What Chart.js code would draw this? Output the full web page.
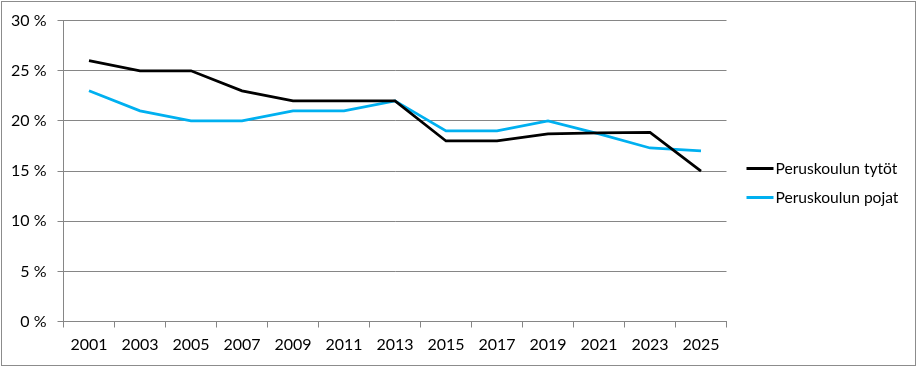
<!DOCTYPE html>
<html><head><meta charset="utf-8">
<script src="https://cdn.jsdelivr.net/npm/chart.js@4"></script>
<style>html,body{margin:0;padding:0;background:#fff}#wrap{width:917px;height:367px;position:relative}</style>
</head><body><div id="wrap"><canvas id="c"></canvas></div>
<script>
const categories = ['2001','2003','2005','2007','2009','2011','2013','2015','2017','2019','2021','2023','2025'];
const tytot = [26, 25, 25, 23, 22, 22, 22, 18, 18, 18.7, 18.8, 18.85, 15];
const pojat = [23, 21, 20, 20, 21, 21, 22, 19, 19, 20, 18.7, 17.3, 17];
const seriesNames = ['Peruskoulun tytöt', 'Peruskoulun pojat'];
const yTicks = [0, 5, 10, 15, 20, 25, 30];

const FONT = 'Lato';
const GRID = '#868686';

const frame = {
  id: 'frame',
  beforeDraw(chart) {
    const c = chart.ctx;
    c.save();
    c.fillStyle = '#fff';
    c.fillRect(0, 0, chart.width, chart.height);
    c.strokeStyle = '#8c8c8c';
    c.lineWidth = 1;
    c.strokeRect(1.5, 1.5, chart.width - 3, chart.height - 3);
    c.restore();
  },
  afterDraw(chart) {
    const c = chart.ctx;
    const a = chart.chartArea;
    c.save();
    c.font = '15.6px ' + FONT;
    c.textBaseline = 'middle';
    c.fillStyle = '#000';
    chart.data.datasets.forEach((ds, i) => {
      const y = 168.5 + i * 29;
      const x0 = a.right + 20;
      c.strokeStyle = ds.borderColor;
      c.lineWidth = 3;
      c.beginPath();
      c.moveTo(x0, y);
      c.lineTo(x0 + 27, y);
      c.stroke();
      c.fillText(ds.label, x0 + 29, y);
    });
    c.restore();
  }
};

new Chart(document.getElementById('c'), {
  type: 'line',
  data: {
    labels: categories,
    datasets: [
      { label: seriesNames[0], data: tytot, borderColor: '#000000', borderWidth: 2.75, pointRadius: 0, tension: 0, fill: false },
      { label: seriesNames[1], data: pojat, borderColor: '#00B0F0', borderWidth: 2.75, pointRadius: 0, tension: 0, fill: false }
    ]
  },
  options: {
    responsive: true,
    maintainAspectRatio: false,
    animation: false,
    layout: { padding: { left: 0, top: 19.5, right: 190.5, bottom: 0 } },
    plugins: { legend: { display: false }, tooltip: { enabled: false } },
    scales: {
      x: {
        offset: true,
        grid: { offset: true, drawOnChartArea: false, drawTicks: true, tickLength: 6, color: GRID, lineWidth: 1 },
        border: { display: true, color: GRID },
        ticks: { color: '#000', font: { family: FONT, size: 16 }, padding: 8, maxRotation: 0, autoSkip: false },
        afterFit(s) { s.height = 45.5; }
      },
      y: {
        min: 0, max: 30,
        afterBuildTicks(s) { s.ticks = yTicks.map(v => ({ value: v })); },
        grid: { color: GRID, lineWidth: 1, drawTicks: true, tickLength: 6 },
        border: { display: true, color: GRID },
        ticks: { color: '#000', font: { family: FONT, size: 16 }, padding: 11, callback: v => v + ' %' },
        afterFit(s) { s.width = 63.5; }
      }
    }
  },
  plugins: [frame]
});
</script></body></html>
